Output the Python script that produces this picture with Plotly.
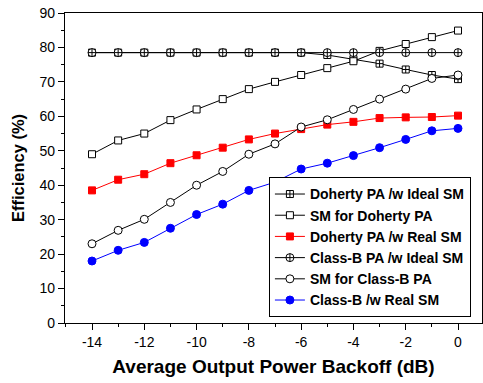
import plotly.graph_objects as go

backoff = [-14, -13, -12, -11, -10, -9, -8, -7, -6, -5, -4, -3, -2, -1, 0]

doherty_ideal = [78.5, 78.5, 78.5, 78.5, 78.5, 78.5, 78.5, 78.5, 78.5, 77.8, 76.6, 75.3, 73.6, 72.0, 70.8]
sm_doherty = [49.0, 53.0, 55.0, 58.9, 62.0, 65.0, 67.9, 70.0, 72.0, 74.0, 76.0, 79.0, 81.0, 83.0, 84.9]
doherty_real = [38.5, 41.6, 43.2, 46.4, 48.7, 50.9, 53.3, 55.0, 56.3, 57.6, 58.4, 59.5, 59.7, 59.8, 60.2]
classb_ideal = [78.5] * 15
sm_classb = [23.0, 26.9, 30.1, 35.0, 40.0, 44.0, 49.0, 52.0, 56.9, 59.0, 62.0, 65.0, 67.9, 71.0, 72.0]
classb_real = [18.0, 21.1, 23.4, 27.5, 31.5, 34.5, 38.5, 40.9, 44.7, 46.4, 48.6, 50.9, 53.3, 55.8, 56.5]

names = ["Doherty PA /w Ideal SM", "SM for Doherty PA", "Doherty PA /w Real SM",
         "Class-B PA /w Ideal SM", "SM for Class-B PA", "Class-B /w Real SM"]

series = [
    (doherty_ideal, "square-cross", "white", "black", "black"),
    (sm_doherty, "square", "white", "black", "black"),
    (doherty_real, "square", "red", "red", "red"),
    (classb_ideal, "circle-cross", "white", "black", "black"),
    (sm_classb, "circle", "white", "black", "black"),
    (classb_real, "circle", "blue", "blue", "blue"),
]

fig = go.Figure()
for name, (vals, sym, fill, mline, lcol) in zip(names, series):
    fig.add_trace(go.Scatter(
        x=backoff, y=vals, name=name, mode="lines+markers",
        line=dict(color=lcol, width=1),
        marker=dict(symbol=sym, size=8 if "circle" in sym else 7, color=fill,
                    line=dict(color=mline, width=1)),
    ))

font_family = "Arial, Liberation Sans, sans-serif"

fig.update_layout(
    width=483, height=383,
    margin=dict(l=65, r=1, t=13, b=60),
    plot_bgcolor="white", paper_bgcolor="white",
    font=dict(family=font_family, color="black"),
    showlegend=True,
    legend=dict(
        x=0.489, y=0.018, xanchor="left", yanchor="bottom",
        bgcolor="white", bordercolor="black", borderwidth=1,
        font=dict(family=font_family, size=14, color="black", weight="bold"),
        tracegroupgap=0, itemwidth=30,
    ),
)

fig.update_xaxes(
    range=[-15.033, 0.918], tickmode="array",
    tickvals=[-14, -12, -10, -8, -6, -4, -2, 0],
    ticktext=["-14", "-12", "-10", "-8", "-6", "-4", "-2", "0"],
    ticks="outside", ticklen=6, tickwidth=1, tickcolor="black",
    minor=dict(dtick=1, tick0=-15, ticks="outside", ticklen=3, tickcolor="black"),
    showline=True, linecolor="black", linewidth=1.2, mirror=True,
    showgrid=False, zeroline=False,
    tickfont=dict(size=14, family=font_family),
    title=dict(text="Average Output Power Backoff (dB)",
               font=dict(size=19, family=font_family, weight="bold"), standoff=10),
)
fig.update_yaxes(
    range=[0, 90], dtick=10, tick0=0,
    ticks="outside", ticklen=6, tickwidth=1, tickcolor="black",
    minor=dict(dtick=5, tick0=0, ticks="outside", ticklen=3, tickcolor="black"),
    showline=True, linecolor="black", linewidth=1.2, mirror=True,
    showgrid=False, zeroline=False,
    tickfont=dict(size=14, family=font_family),
    title=dict(text="Efficiency (%)",
               font=dict(size=16.5, family=font_family, weight="bold"), standoff=10),
)

fig.write_html("out.html")
